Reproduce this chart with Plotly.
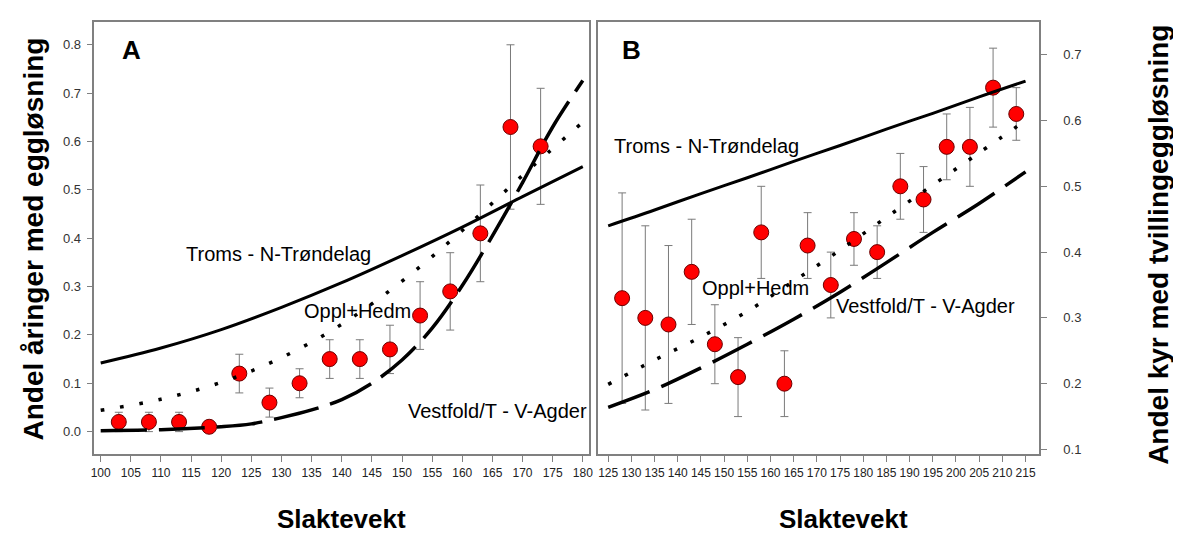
import plotly.graph_objects as go

# ---- panel A: heifers, ovulation vs carcass weight ----
a_x = [103, 108, 113, 118, 123, 128, 133, 138, 143, 148, 153, 158, 163, 168, 173]
a_y = [0.02, 0.02, 0.02, 0.01, 0.12, 0.06, 0.10, 0.15, 0.15, 0.17, 0.24, 0.29, 0.41, 0.63, 0.59]
a_hi = [0.04, 0.04, 0.04, 0.01, 0.16, 0.09, 0.13, 0.19, 0.19, 0.22, 0.31, 0.37, 0.51, 0.80, 0.71]
a_lo = [0.00, 0.00, 0.00, 0.01, 0.08, 0.03, 0.07, 0.11, 0.11, 0.12, 0.17, 0.21, 0.31, 0.46, 0.47]

a_cx = [100, 110, 120, 130, 140, 150, 160, 170, 180]
a_troms = [0.142, 0.173, 0.211, 0.257, 0.308, 0.364, 0.423, 0.486, 0.548]
a_oppl = [0.044, 0.067, 0.102, 0.153, 0.222, 0.311, 0.416, 0.530, 0.640]
a_vest_x = [100, 110, 120, 125, 130, 135, 140, 145, 150, 155, 160, 165, 170, 175, 180]
a_vest = [0.002, 0.004, 0.010, 0.016, 0.029, 0.045, 0.066, 0.100, 0.148, 0.214, 0.302, 0.405, 0.515, 0.630, 0.726]

# ---- panel B: cows, twin ovulation vs carcass weight ----
b_x = [128, 133, 138, 143, 148, 153, 158, 163, 168, 173, 178, 183, 188, 193, 198, 203, 208, 213]
b_y = [0.33, 0.30, 0.29, 0.37, 0.26, 0.21, 0.43, 0.20, 0.41, 0.35, 0.42, 0.40, 0.50, 0.48, 0.56, 0.56, 0.65, 0.61]
b_hi = [0.49, 0.44, 0.41, 0.45, 0.32, 0.27, 0.50, 0.25, 0.46, 0.40, 0.46, 0.44, 0.55, 0.53, 0.61, 0.62, 0.71, 0.65]
b_lo = [0.17, 0.16, 0.17, 0.29, 0.20, 0.15, 0.36, 0.15, 0.36, 0.30, 0.38, 0.36, 0.45, 0.43, 0.51, 0.50, 0.59, 0.57]

b_cx = [125, 135, 145, 155, 165, 175, 185, 195, 205, 215]
b_troms = [0.440, 0.464, 0.489, 0.513, 0.538, 0.562, 0.587, 0.611, 0.636, 0.660]
b_oppl = [0.199, 0.236, 0.271, 0.310, 0.356, 0.403, 0.453, 0.502, 0.551, 0.600]
b_vest = [0.164, 0.191, 0.224, 0.260, 0.298, 0.339, 0.384, 0.430, 0.474, 0.522]

a_ticks = list(range(100, 181, 5))
b_ticks = list(range(125, 216, 5))
a_yticks = [0.0, 0.1, 0.2, 0.3, 0.4, 0.5, 0.6, 0.7, 0.8]
b_yticks = [0.1, 0.2, 0.3, 0.4, 0.5, 0.6, 0.7]

W, H = 1181, 534
OFF = 8  # page body margin, positions below are window pixels
NARROW = "Liberation Sans Narrow, Arial Narrow, Liberation Sans, Arial"
SANS = "Liberation Sans, Arial, sans-serif"


def px(x):
    return (x - OFF) / W


def py(y):
    return 1 - (y - OFF) / H


fig = go.Figure()


def add_points(xs, ys, hi, lo, xa, ya):
    fig.add_trace(go.Scatter(
        x=xs, y=ys, xaxis=xa, yaxis=ya, mode="markers",
        marker=dict(color="#ff0000", size=15, line=dict(color="#6b0000", width=1)),
        error_y=dict(type="data", symmetric=False,
                     array=[h - v for h, v in zip(hi, ys)],
                     arrayminus=[v - l for v, l in zip(ys, lo)],
                     color="#7a7a7a", thickness=1, width=4),
        showlegend=False))


def add_curve(xs, ys, xa, ya, dash, width=3):
    fig.add_trace(go.Scatter(
        x=xs, y=ys, xaxis=xa, yaxis=ya, mode="lines",
        line=dict(color="black", width=width, dash=dash, shape="spline"),
        showlegend=False))


add_points(a_x, a_y, a_hi, a_lo, "x", "y")
add_curve(a_cx, a_troms, "x", "y", "solid")
add_curve(a_cx, a_oppl, "x", "y", "3.5px,16px", 3.5)
add_curve(a_vest_x, a_vest, "x", "y", "46px,12px", 3.5)

add_points(b_x, b_y, b_hi, b_lo, "x2", "y2")
add_curve(b_cx, b_troms, "x2", "y2", "solid")
add_curve(b_cx, b_oppl, "x2", "y2", "3.5px,15px", 3.5)
add_curve(b_cx, b_vest, "x2", "y2", "44px,13px", 3.5)

box = dict(showline=True, mirror=True, linecolor="#808080", linewidth=1.5,
           showgrid=False, zeroline=False, ticks="outside", tickcolor="#808080",
           ticklen=6, tickwidth=1)

ydom = [py(457), py(22)]
fig.update_layout(
    width=W, height=H, margin=dict(l=0, r=0, t=0, b=0),
    paper_bgcolor="white", plot_bgcolor="white",
    xaxis=dict(domain=[px(91), px(589)], range=[98.96, 181.04], tickangle=0,
               tickvals=a_ticks, tickfont=dict(family=NARROW, size=12, color="#222"), **box),
    yaxis=dict(domain=ydom, range=[-0.0473, 0.8473], tickvals=a_yticks, tickformat=".1f",
               ticklabelstandoff=3,
               tickfont=dict(family=SANS, size=13, color="#333"), **box),
    xaxis2=dict(domain=[px(598), px(1042)], range=[122.8, 217.9], anchor="y2", tickangle=0,
                tickvals=b_ticks, tickfont=dict(family=NARROW, size=12, color="#222"), **box),
    yaxis2=dict(domain=ydom, range=[0.0924, 0.7499], anchor="x2", side="right",
                tickvals=b_yticks, tickformat=".1f", ticklabelstandoff=14,
                tickfont=dict(family=SANS, size=13, color="#333"), **box),
)

notes = [
    ("A", 128, 50, 26, True, 0),
    ("B", 632, 50, 26, True, 0),
    ("Troms - N-Trøndelag", 276, 255, 20, False, 0),
    ("Oppl+Hedm", 356, 313, 20, False, 0),
    ("Vestfold/T - V-Agder", 497, 413, 20, False, 0),
    ("Troms - N-Trøndelag", 707, 147, 20, False, 0),
    ("Oppl+Hedm", 757, 290, 20, False, 0),
    ("Vestfold/T - V-Agder", 928, 308, 20, False, 0),
    ("Andel åringer med eggløsning", 30, 240, 28, True, -90),
    ("Andel kyr med tvillingeggløsning", 1162, 246, 28, True, -90),
]
for txt, x, y, size, bold, ang in notes:
    fig.add_annotation(
        text=f"<b>{txt}</b>" if bold else txt, x=px(x), y=py(y),
        xref="paper", yref="paper", showarrow=False, textangle=ang,
        xanchor="center", yanchor="middle",
        font=dict(family=SANS, size=size, color="black"))

for x in (340, 845):
    fig.add_annotation(text="<b>Slaktevekt</b>", x=px(x), y=py(522), xref="paper",
                       yref="paper", showarrow=False, xanchor="center", yanchor="middle",
                       font=dict(family=NARROW, size=26, color="black"))

fig.write_html("out.html")
